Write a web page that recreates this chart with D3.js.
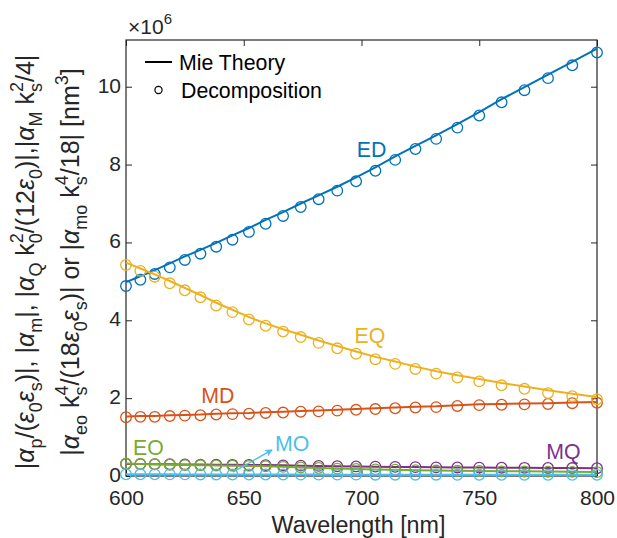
<!DOCTYPE html>
<html>
<head>
<meta charset="utf-8">
<script src="https://cdn.jsdelivr.net/npm/d3@7"></script>
<style>
  body { margin: 0; background: #fff; }
  svg { display: block; }
  text { font-family: Arial, "Liberation Sans", Helvetica, sans-serif; }
</style>
</head>
<body>
<svg id="chart" width="617" height="538"></svg>
<script>
// Wavelength samples [nm]
const wavelength = [600, 606.1, 612.2, 618.6, 625.0, 631.6, 638.3, 645.2, 652.2, 659.3,
  666.7, 674.2, 681.8, 689.7, 697.7, 705.9, 714.3, 722.9, 731.7, 740.7,
  750.0, 759.5, 769.2, 779.2, 789.5, 800];

// Polarizabilities in units of 1e6 nm^3 — full Mie theory (lines)
const mieED = [4.98, 5.13, 5.29, 5.46, 5.64, 5.81, 5.99, 6.18, 6.37, 6.58, 6.78, 7.00, 7.21, 7.43, 7.67,
  7.93, 8.21, 8.48, 8.75, 9.04, 9.35, 9.68, 9.99, 10.31, 10.64, 10.98];
const mieMD = [1.53, 1.54, 1.54, 1.56, 1.57, 1.58, 1.60, 1.61, 1.62, 1.64, 1.65, 1.67, 1.68, 1.70, 1.72,
  1.74, 1.76, 1.78, 1.79, 1.82, 1.84, 1.85, 1.86, 1.87, 1.89, 1.90];
const mieEQ = [5.48, 5.33, 5.18, 5.01, 4.83, 4.65, 4.45, 4.27, 4.08, 3.92, 3.77, 3.63, 3.48, 3.34, 3.20,
  3.06, 2.94, 2.81, 2.69, 2.59, 2.49, 2.39, 2.30, 2.20, 2.11, 2.03];
const mieMQ = [0.31, 0.307, 0.303, 0.30, 0.297, 0.293, 0.29, 0.287, 0.283, 0.28, 0.273, 0.266, 0.259,
  0.252, 0.246, 0.24, 0.234, 0.228, 0.222, 0.219, 0.216, 0.213, 0.21, 0.207, 0.204, 0.20];
const mieEO = [0.32, 0.31, 0.30, 0.29, 0.28, 0.275, 0.27, 0.265, 0.26, 0.25, 0.235, 0.22, 0.205, 0.19,
  0.18, 0.17, 0.16, 0.15, 0.14, 0.135, 0.13, 0.125, 0.12, 0.115, 0.11, 0.105];
const mieMO = [0.045, 0.044, 0.043, 0.042, 0.041, 0.040, 0.040, 0.039, 0.038, 0.038, 0.037, 0.036, 0.036,
  0.035, 0.035, 0.034, 0.034, 0.033, 0.033, 0.032, 0.032, 0.031, 0.031, 0.031, 0.030, 0.030];

// Multipole decomposition (circles)
const decED = [4.88, 5.04, 5.19, 5.36, 5.55, 5.71, 5.89, 6.07, 6.27, 6.48, 6.68, 6.91, 7.11, 7.33, 7.57,
  7.84, 8.12, 8.40, 8.66, 8.95, 9.26, 9.60, 9.91, 10.22, 10.55, 10.88];
const decMD = [1.51, 1.52, 1.52, 1.54, 1.55, 1.56, 1.58, 1.59, 1.60, 1.62, 1.63, 1.65, 1.66, 1.68, 1.70,
  1.72, 1.74, 1.76, 1.77, 1.80, 1.82, 1.83, 1.84, 1.85, 1.87, 1.88];
const decEQ = [5.42, 5.27, 5.12, 4.95, 4.77, 4.59, 4.38, 4.21, 4.02, 3.86, 3.71, 3.57, 3.42, 3.28, 3.14,
  3.00, 2.88, 2.75, 2.63, 2.53, 2.43, 2.33, 2.24, 2.13, 2.05, 1.97];
const decMQ = [0.31, 0.307, 0.303, 0.30, 0.297, 0.293, 0.29, 0.287, 0.283, 0.28, 0.273, 0.266, 0.259,
  0.252, 0.246, 0.24, 0.234, 0.228, 0.222, 0.219, 0.216, 0.213, 0.21, 0.207, 0.204, 0.20];
const decEO = [0.32, 0.31, 0.30, 0.29, 0.28, 0.275, 0.27, 0.265, 0.26, 0.25, 0.235, 0.22, 0.205, 0.19,
  0.18, 0.17, 0.16, 0.15, 0.14, 0.135, 0.13, 0.12, 0.115, 0.11, 0.105, 0.10];
const decMO = [0.045, 0.044, 0.043, 0.042, 0.041, 0.040, 0.040, 0.039, 0.038, 0.038, 0.037, 0.036, 0.036,
  0.035, 0.035, 0.034, 0.034, 0.033, 0.033, 0.032, 0.032, 0.031, 0.031, 0.031, 0.030, 0.030];

const seriesNames = ["ED", "MD", "EQ", "MQ", "EO", "MO"];
const seriesColors = ["#0072BD", "#D95319", "#EDB120", "#7E2F8E", "#77AC30", "#4DBEEE"];
const mieSeries = [mieED, mieMD, mieEQ, mieMQ, mieEO, mieMO];
const decSeries = [decED, decMD, decEQ, decMQ, decEO, decMO];

const xTicks = [600, 650, 700, 750, 800];
const yTicks = [0, 2, 4, 6, 8, 10];
const yTickLabels = ["0", "2", "4", "6", "8", "10"];
const legendLabels = ["Mie Theory", "Decomposition"];
const xLabel = "Wavelength [nm]";

const svg = d3.select("#chart");
const axisColor = "#262626";
const plotLeft = 126, plotRight = 597, plotTop = 40, plotBottom = 476;

const x = d3.scaleLinear().domain([600, 800]).range([plotLeft, plotRight]);
const y = d3.scaleLinear().domain([0, 11.2]).range([plotBottom, plotTop]);

// ---- axes ----
function styleAxis(g) {
  g.select(".domain").remove();
  g.selectAll(".tick line").attr("stroke", axisColor).attr("stroke-width", 1);
  g.selectAll(".tick text").attr("fill", axisColor).attr("font-size", 21)
    .attr("font-family", 'Arial, "Liberation Sans", sans-serif');
}
svg.append("g").attr("transform", `translate(0,${plotBottom})`)
  .call(d3.axisBottom(x).tickValues(xTicks).tickFormat(d3.format("d"))
    .tickSizeInner(-6).tickSizeOuter(0).tickPadding(14))
  .call(styleAxis);
svg.append("g").attr("transform", `translate(0,${plotTop})`)
  .call(d3.axisTop(x).tickValues(xTicks).tickFormat("").tickSizeInner(-6).tickSizeOuter(0))
  .call(styleAxis);
svg.append("g").attr("transform", `translate(${plotLeft},0)`)
  .call(d3.axisLeft(y).tickValues(yTicks).tickFormat((d, i) => yTickLabels[i])
    .tickSizeInner(-6).tickSizeOuter(0).tickPadding(5))
  .call(styleAxis)
  .call(g => g.selectAll(".tick text").attr("dy", "0.26em"));
svg.append("g").attr("transform", `translate(${plotRight},0)`)
  .call(d3.axisRight(y).tickValues(yTicks).tickFormat("").tickSizeInner(-6).tickSizeOuter(0))
  .call(styleAxis);
svg.append("rect").attr("x", plotLeft).attr("y", plotTop)
  .attr("width", plotRight - plotLeft).attr("height", plotBottom - plotTop)
  .attr("fill", "none").attr("stroke", axisColor).attr("stroke-width", 1.2);

// exponent label
const expo = svg.append("text").attr("x", 128).attr("y", 34).attr("fill", axisColor).attr("font-size", 21);
expo.append("tspan").text("\u00d710");
expo.append("tspan").attr("font-size", 15).attr("dy", -10).text("6");

// ---- data ----
const line = d3.line().x((d, i) => x(wavelength[i])).y(d => y(d));
const plot = svg.append("g");
seriesNames.forEach((name, s) => {
  plot.append("path").datum(mieSeries[s])
    .attr("d", line).attr("fill", "none")
    .attr("stroke", seriesColors[s]).attr("stroke-width", 2);
  plot.selectAll(null).data(decSeries[s]).enter().append("circle")
    .attr("cx", (d, i) => x(wavelength[i])).attr("cy", d => y(d))
    .attr("r", 5.3).attr("fill", "none")
    .attr("stroke", seriesColors[s]).attr("stroke-width", 1.3);
});

// series labels
const labelPos = { ED: [698, 8.38], MD: [632, 2.08], EQ: [697, 3.60], MQ: [778.5, 0.64], EO: [603, 0.745], MO: [663.3, 0.85] };
seriesNames.forEach((name, s) => {
  const p = labelPos[name];
  svg.append("text").attr("x", x(p[0])).attr("y", y(p[1]) + 7.6)
    .attr("font-size", 21.3).attr("fill", seriesColors[s]).text(name);
});

// arrow pointing at the MO curve
svg.append("defs").append("marker").attr("id", "arrowMO")
  .attr("viewBox", "0 0 10 10").attr("refX", 9).attr("refY", 5)
  .attr("markerWidth", 8).attr("markerHeight", 8).attr("orient", "auto")
  .attr("markerUnits", "userSpaceOnUse")
  .append("path").attr("d", "M0,0 L10,5 L0,10 L3,5 Z").attr("fill", seriesColors[5]);
svg.append("line")
  .attr("x1", x(645.4)).attr("y1", y(0.10)).attr("x2", x(662)).attr("y2", y(0.67))
  .attr("stroke", seriesColors[5]).attr("stroke-width", 1.5).attr("marker-end", "url(#arrowMO)");

// ---- legend ----
svg.append("line").attr("x1", 145).attr("x2", 172).attr("y1", 62).attr("y2", 62)
  .attr("stroke", "#000").attr("stroke-width", 2);
svg.append("circle").attr("cx", 158.5).attr("cy", 90).attr("r", 3.6)
  .attr("fill", "none").attr("stroke", "#000").attr("stroke-width", 1.2);
svg.append("text").attr("x", 179).attr("y", 69.5).attr("font-size", 21.3).attr("fill", "#000").text(legendLabels[0]);
svg.append("text").attr("x", 181).attr("y", 97.5).attr("font-size", 21.3).attr("fill", "#000").text(legendLabels[1]);

// x label
svg.append("text").attr("x", (plotLeft + plotRight) / 2 - 3).attr("y", 533).attr("text-anchor", "middle")
  .attr("font-size", 23.3).attr("fill", axisColor).text(xLabel);

// ---- y label (two rotated lines with sub/superscripts) ----
const measurer = svg.append("text").attr("visibility", "hidden");
function textWidth(str, size, italic) {
  measurer.attr("font-size", size).attr("font-style", italic ? "italic" : "normal").text(str);
  return measurer.node().getComputedTextLength();
}
function richLine(cx, cy, size, parts) {
  const t = svg.append("text").attr("transform", `translate(${cx},${cy}) rotate(-90)`)
    .attr("text-anchor", "middle").attr("font-size", size).attr("fill", axisColor);
  let shift = 0, lastSubW = 0;
  const small = size * 0.72;
  parts.forEach(p => {
    const kind = p[1] || "n";
    const italic = kind === "g";
    let target = 0, fs = size, dx = 0;
    if (kind === "b") { target = size * 0.32; fs = small; }
    if (kind === "p" || kind === "ps") { target = -size * 0.45; fs = small; }
    if (kind === "ps") dx = -lastSubW;
    const ts = t.append("tspan").attr("font-size", fs).attr("dy", target - shift).text(p[0]);
    if (dx) ts.attr("dx", dx);
    if (italic) ts.attr("font-style", "italic");
    shift = target;
    lastSubW = kind === "b" ? textWidth(p[0], small, false) : 0;
  });
}
const A = "\u03b1", E = "\u03b5";
richLine(34, 262, 25, [["|"], [A, "g"], ["p", "b"], ["/("], [E, "g"], ["0", "b"], [E, "g"], ["s", "b"],
  [")|, |"], [A, "g"], ["m", "b"], ["|, |"], [A, "g"], ["Q", "b"], [" k"], ["0", "b"], ["2", "ps"],
  ["/(12"], [E, "g"], ["0", "b"], [")|,|"], [A, "g"], ["M", "b"], [" k"], ["s", "b"], ["2", "ps"], ["/4|"]]);
richLine(79, 262, 25, [["|"], [A, "g"], ["eo", "b"], [" k"], ["s", "b"], ["4", "ps"], ["/(18"], [E, "g"],
  ["0", "b"], [E, "g"], ["s", "b"], [")| or |"], [A, "g"], ["mo", "b"], [" k"], ["s", "b"], ["4", "ps"],
  ["/18| [nm"], ["3", "p"], ["]"]]);
measurer.remove();
</script>
</body>
</html>
